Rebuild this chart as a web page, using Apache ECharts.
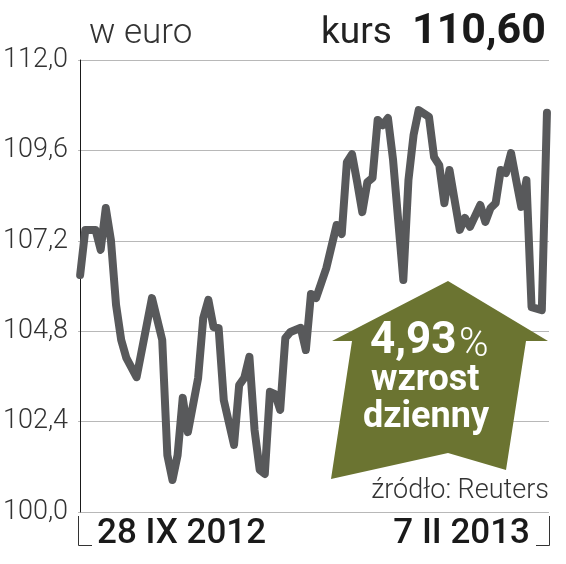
<!DOCTYPE html>
<html>
<head>
<meta charset="utf-8">
<script src="https://cdn.jsdelivr.net/npm/echarts@6/dist/echarts.min.js"></script>
<style>
  html, body { margin: 0; padding: 0; background: #fff; }
  #chart { width: 566px; height: 564px; }
</style>
</head>
<body>
<div id="chart"></div>
<script>
// sesje od 28 IX 2012 (dzien 0) do 7 II 2013
var days = [0, 1, 3, 4, 5, 6, 7, 8, 9, 11, 14, 16,
  17, 18, 19, 20, 21, 23, 24, 25, 26, 27, 28, 30, 31, 32, 33, 34, 35, 36, 37, 38, 39, 40, 41,
  43, 44, 45, 46, 47, 48, 50, 51, 52, 53, 54, 55, 56, 57, 58, 59, 60, 61, 62, 63, 64, 65, 66,
  68, 69, 70, 71, 72, 73, 74, 75, 76, 78, 79, 80, 81, 82, 83, 84, 85, 86, 87, 88, 90, 91];
var kurs = [106.29, 107.49, 107.49, 106.96, 108.07, 107.22, 105.50, 104.57, 104.09, 103.58, 105.68, 104.57,
  101.51, 100.85, 101.51, 103.03, 102.12, 103.56, 105.15, 105.63, 104.91, 104.88, 102.97, 101.78, 103.37, 103.56, 104.12, 102.18, 101.12, 101.01, 103.19, 103.13, 102.71, 104.62, 104.78,
  104.89, 104.30, 105.79, 105.68, 106.08, 106.48, 107.62, 107.38, 109.29, 109.50, 108.76, 107.96, 108.76, 108.87, 110.41, 110.27, 110.46, 109.35, 107.75, 106.16, 108.81, 110.01, 110.67,
  110.49, 109.42, 109.21, 108.20, 109.08, 108.28, 107.49, 107.81, 107.57, 108.15, 107.70, 108.07, 108.20, 109.08, 109.00, 109.53, 108.81, 108.10, 108.81, 105.44, 105.36, 110.60];
var yTicks = [100, 112, 2.4];          // min, max, krok
var dateLabels = ['28 IX 2012', '7 II 2013'];
var lastKurs = '110,60';
var dailyChange = '4,93';

var chart = echarts.init(document.getElementById('chart'));
var dark = '#58595b';
var olive = '#6b7431';

chart.setOption({
  animation: false,
  grid: { left: 78, right: 17, top: 60, bottom: 52 },
  xAxis: {
    type: 'value',
    min: -0.4,
    max: 91.4,
    axisLine: { show: false },
    axisTick: { show: false },
    axisLabel: { show: false },
    splitLine: { show: false }
  },
  yAxis: {
    type: 'value',
    min: yTicks[0],
    max: yTicks[1],
    interval: yTicks[2],
    axisLine: { show: true, lineStyle: { color: '#1a1a1a', width: 1 } },
    axisTick: { show: false },
    splitLine: { show: true, lineStyle: { color: '#b8b8b8', width: 1 } },
    axisLabel: {
      margin: 10,
      fontFamily: 'Roboto',
      fontWeight: 300,
      fontSize: 27,
      color: '#333',
      verticalAlign: 'middle',
      padding: [10, 0, 0, 0],
      formatter: function (v) { return v.toFixed(1).replace('.', ','); }
    }
  },
  series: [{
    type: 'line',
    data: days.map(function (d, i) { return [d, kurs[i]]; }),
    symbol: 'none',
    lineStyle: { color: dark, width: 8, cap: 'round', join: 'round' },
    z: 3
  }],
  graphic: [
    { type: 'text', left: 89, top: 17, style: { text: 'w euro', fontFamily: 'Roboto', fontWeight: 300, fontSize: 35, fill: '#333' } },
    { type: 'text', left: 321, top: 15, style: { text: 'kurs', fontFamily: 'Roboto', fontWeight: 400, fontSize: 37, fill: '#222' } },
    { type: 'text', left: 412, top: 11, style: { text: lastKurs, fontFamily: 'Roboto', fontWeight: 'bold', fontSize: 43, fill: '#1a1a1a' } },
    // strzalka
    { type: 'polygon', z: 10, shape: { points: [[448, 281], [548, 341], [526, 341], [506, 470], [448, 453], [331, 479], [352, 341], [332, 341]] }, style: { fill: olive } },
    { type: 'text', z: 11, left: 370, top: 320, style: { text: dailyChange, fontFamily: 'Roboto', fontWeight: 'bold', fontSize: 44, fill: '#fff' } },
    { type: 'text', z: 11, left: 459, top: 326, style: { text: '%', fontFamily: 'Roboto', fontWeight: 300, fontSize: 40, fill: '#fff' } },
    { type: 'text', z: 11, left: 371, top: 363, style: { text: 'wzrost', fontFamily: 'Roboto', fontWeight: 'bold', fontSize: 36, fill: '#fff' } },
    { type: 'text', z: 11, left: 363, top: 400, style: { text: 'dzienny', fontFamily: 'Roboto', fontWeight: 'bold', fontSize: 36, fill: '#fff' } },
    { type: 'text', z: 11, right: 17, top: 478, style: { text: 'źródło: Reuters', fontFamily: 'Roboto', fontWeight: 300, fontSize: 27, fill: '#333' } },
    // klamra osi czasu
    { type: 'polyline', shape: { points: [[78.5, 516], [78.5, 545.5], [92, 545.5]] }, style: { stroke: '#333', lineWidth: 1, fill: null } },
    { type: 'polyline', shape: { points: [[536, 545.5], [549.5, 545.5], [549.5, 516]] }, style: { stroke: '#333', lineWidth: 1, fill: null } },
    { type: 'text', left: 97, top: 517, style: { text: dateLabels[0], fontFamily: 'Roboto', fontWeight: 500, fontSize: 35, fill: '#1a1a1a' } },
    { type: 'text', right: 36, top: 517, style: { text: dateLabels[1], fontFamily: 'Roboto', fontWeight: 500, fontSize: 35, fill: '#1a1a1a' } }
  ]
});
</script>
</body>
</html>
